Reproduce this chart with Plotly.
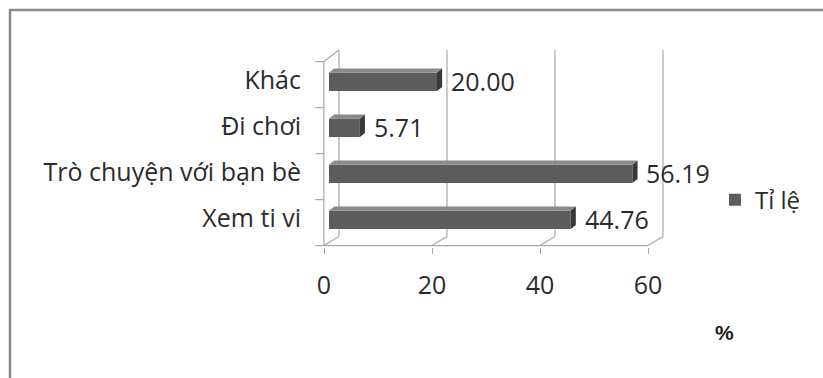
import plotly.graph_objects as go

# Activities and their share (%), listed bottom to top
categories = ["Xem ti vi", "Trò chuyện với bạn bè", "Đi chơi", "Khác"]
values = [44.76, 56.19, 5.71, 20.00]
x_ticks = [0, 20, 40, 60]
series_name = "Tỉ lệ"
axis_unit = "%"

FONT = "Open Sans, Noto Sans, sans-serif"
TEXT_COLOR = "#2b2b2b"
FACE = "#5d5d5d"
TOP_FACE = "#8a8a8a"
END_FACE = "#383838"
FRAME = "#a8a8a8"

# pseudo-3D geometry, in axis units of the bar subplot
BAR_W = 0.40
BAR_OFF = -0.24
CAP_DX = 0.95     # depth of the bar end face (x units)
CAP_DY = 0.09     # depth of the bar end face (category units)
FRONT_DX = -0.95  # front plane offset from the bar plane
BACK_DX = 1.85    # back wall offset from the bar plane
FRONT_FLOOR = -0.60
BACK_FLOOR = -0.40
FRONT_TOP = 3.40
BACK_TOP = 3.65
TICK_LEN_X = 1.6

fig = go.Figure()
fig.add_trace(go.Bar(
    x=values, y=categories, orientation="h", name=series_name,
    width=BAR_W, offset=BAR_OFF,
    marker=dict(color=FACE, line=dict(width=0)),
    showlegend=True, hoverinfo="x+y",
))
# invisible companion trace so the front value axis (x2) gets drawn
fig.add_trace(go.Scatter(
    x=values, y=categories, xaxis="x2", yaxis="y", mode="markers",
    marker=dict(opacity=0), showlegend=False, hoverinfo="skip",
))

shapes = []
line = dict(color=FRAME, width=1.2)

# back wall gridlines and floor perspective lines
for t in x_ticks:
    shapes.append(dict(type="line", xref="x", yref="y", layer="below",
                       x0=t + BACK_DX, x1=t + BACK_DX, y0=BACK_FLOOR, y1=BACK_TOP, line=line))
    shapes.append(dict(type="line", xref="x", yref="y", layer="below",
                       x0=t + FRONT_DX, x1=t + BACK_DX, y0=FRONT_FLOOR, y1=BACK_FLOOR, line=line))
# front floor edge
shapes.append(dict(type="line", xref="x", yref="y", layer="below",
                   x0=x_ticks[0] + FRONT_DX, x1=x_ticks[-1] + FRONT_DX,
                   y0=FRONT_FLOOR, y1=FRONT_FLOOR, line=line))
# front left edge with category boundary ticks, and top of side wall
shapes.append(dict(type="line", xref="x", yref="y", layer="below",
                   x0=FRONT_DX, x1=FRONT_DX, y0=FRONT_FLOOR, y1=FRONT_TOP, line=line))
shapes.append(dict(type="line", xref="x", yref="y", layer="below",
                   x0=FRONT_DX, x1=BACK_DX, y0=FRONT_TOP, y1=BACK_TOP, line=line))
for k in range(len(categories) + 1):
    yb = FRONT_FLOOR + k * (FRONT_TOP - FRONT_FLOOR) / len(categories)
    shapes.append(dict(type="line", xref="x", yref="y", layer="below",
                       x0=FRONT_DX - TICK_LEN_X, x1=FRONT_DX, y0=yb, y1=yb, line=line))

# bar top faces and end faces
for i, v in enumerate(values):
    y_lo = i + BAR_OFF
    y_hi = i + BAR_OFF + BAR_W
    shapes.append(dict(
        type="path", xref="x", yref="y", layer="above", line=dict(width=0),
        fillcolor=TOP_FACE,
        path=f"M 0 {y_hi} L {v} {y_hi} L {v + CAP_DX} {y_hi + CAP_DY} L {CAP_DX} {y_hi + CAP_DY} Z",
    ))
    shapes.append(dict(
        type="path", xref="x", yref="y", layer="above", line=dict(width=0),
        fillcolor=END_FACE,
        path=f"M {v} {y_lo} L {v} {y_hi} L {v + CAP_DX} {y_hi + CAP_DY} L {v + CAP_DX} {y_lo + CAP_DY} Z",
    ))

# outer chart border
shapes.append(dict(type="rect", xref="paper", yref="paper",
                   x0=-0.8487, x1=1.476, y0=-0.769, y1=1.191,
                   line=dict(color="#8a8a8a", width=2.5)))

annotations = []
for c, v in zip(categories, values):
    annotations.append(dict(
        x=v, y=c, xref="x", yref="y", text=f"{v:.2f}", showarrow=False,
        xanchor="left", yanchor="middle", xshift=12, yshift=-1,
        font=dict(family=FONT, size=25, color=TEXT_COLOR),
    ))
annotations.append(dict(
    x=1.154, y=-0.432, xref="paper", yref="paper", text=f"<b>{axis_unit}</b>",
    showarrow=False, xanchor="center", yanchor="middle",
    font=dict(family="Liberation Sans, Arial, sans-serif", size=21, color="#1a1a1a"),
))

fig.update_layout(
    width=823, height=378,
    margin=dict(l=313, r=153, t=48, b=131, pad=0),
    paper_bgcolor="white", plot_bgcolor="white",
    font=dict(family=FONT, size=24, color=TEXT_COLOR),
    bargap=0.5,
    xaxis=dict(range=[-2.963, 63.148], showgrid=False, zeroline=False,
               showticklabels=False, ticks="", showline=False, fixedrange=True),
    xaxis2=dict(range=[-2.037, 64.074], overlaying="x", anchor="y", side="bottom",
                tickvals=x_ticks, ticktext=[str(t) for t in x_ticks],
                ticks="outside", ticklen=6, tickcolor=FRAME, tickwidth=1.2,
                showgrid=False, zeroline=False, showline=False,
                ticklabelstandoff=10,
                tickfont=dict(family=FONT, size=25, color=TEXT_COLOR)),
    yaxis=dict(type="category", categoryorder="array", categoryarray=categories,
               range=[-0.6304, 3.6957], showgrid=False, zeroline=False,
               ticks="", showline=False, ticklabelstandoff=11,
               tickfont=dict(family=FONT, size=25, color=TEXT_COLOR)),
    legend=dict(x=1.126, y=0.236, xanchor="left", yanchor="middle",
                font=dict(family=FONT, size=24, color=TEXT_COLOR),
                bgcolor="rgba(0,0,0,0)", borderwidth=0),
    shapes=shapes,
    annotations=annotations,
)

fig.write_html("out.html")
